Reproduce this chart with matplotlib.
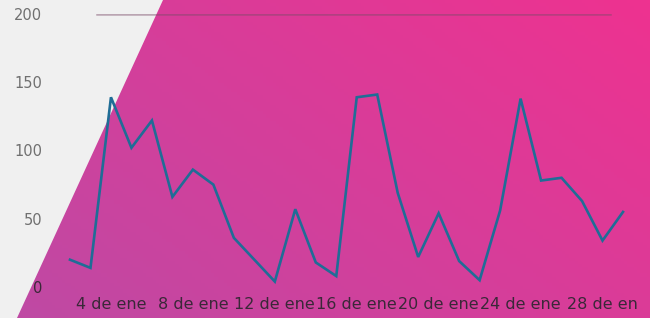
import numpy as np
import matplotlib
matplotlib.use("Agg")
import matplotlib.pyplot as plt
import matplotlib.dates as mdates
from matplotlib.patches import Polygon
import datetime as dt

# ---- data ----
start_date = dt.date(2024, 1, 2)
values = [20, 14, 139, 102, 122, 66, 86, 75, 36, 20, 4, 57, 18, 8,
          139, 141, 69, 22, 54, 19, 5, 56, 138, 78, 80, 63, 34, 55]
dates = [start_date + dt.timedelta(days=i) for i in range(len(values))]
tick_days = [4, 8, 12, 16, 20, 24, 28]
tick_labels = ["4 de ene", "8 de ene", "12 de ene", "16 de ene",
               "20 de ene", "24 de ene", "28 de en"]
y_ticks = [0, 50, 100, 150, 200]

W, H = 650, 318
fig = plt.figure(figsize=(W / 100, H / 100), dpi=100)

# ---- background ----
bg = fig.add_axes([0, 0, 1, 1], zorder=0)
bg.set_axis_off()
xx, yy = np.meshgrid(np.linspace(0, 1, 200), np.linspace(0, 1, 100))
t = np.clip((xx * 0.6 + yy * 0.4), 0, 1)  # 0 bottom-left, 1 top-right
c0 = np.array([190, 74, 164]) / 255.0
c1 = np.array([238, 50, 144]) / 255.0
img = c0[None, None, :] * (1 - t[..., None]) + c1[None, None, :] * t[..., None]
bg.imshow(img, extent=[0, W, 0, H], origin="lower", aspect="auto")
bg.add_patch(Polygon([(0, 0), (17, 0), (163, H), (0, H)], closed=True,
                     facecolor="#f0f0f0", edgecolor="none"))
bg.set_xlim(0, W)
bg.set_ylim(0, H)

# ---- main axes ----
left_px, right_px = 60, 633
bottom_px, top_px = 287, 14
ax = fig.add_axes([left_px / W, (H - bottom_px) / H,
                   (right_px - left_px) / W, (bottom_px - top_px) / H], zorder=1)
ax.set_facecolor("none")
for s in ax.spines.values():
    s.set_visible(False)

ax.plot(dates, values, color="#1f6d96", lw=1.9, solid_joinstyle="miter")

day_px = 20.48
pad_days = (70 - left_px) / day_px
x0 = mdates.date2num(dates[0]) - pad_days
x1 = mdates.date2num(dates[-1]) + (right_px - 623) / day_px
ax.set_xlim(x0, x1)
ax.set_ylim(0, 200)

ax.axhline(200, xmin=0.065, xmax=0.96, color="#7a4a68", alpha=0.45, lw=1.8)

ax.set_yticks(y_ticks)
ax.set_yticklabels([str(v) for v in y_ticks])
ax.tick_params(axis="y", length=0, pad=13, labelsize=10.5, labelcolor="#707070")

ax.set_xticks([mdates.date2num(dt.date(2024, 1, d)) for d in tick_days])
ax.set_xticklabels(tick_labels)
ax.tick_params(axis="x", length=0, pad=7, labelsize=11.5, labelcolor="#3a2838")
for lbl in ax.get_yticklabels():
    if lbl.get_text() == "0":
        lbl.set_color("#3a2838")

fig.savefig("out.png", dpi=100)
